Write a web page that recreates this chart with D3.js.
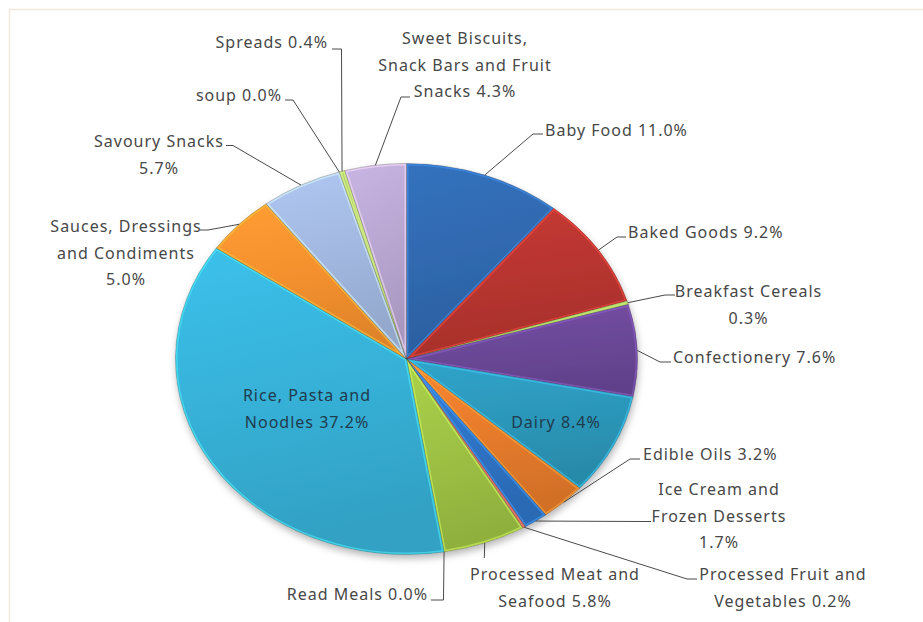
<!DOCTYPE html>
<html>
<head>
<meta charset="utf-8">
<script src="https://cdn.jsdelivr.net/npm/d3@7"></script>
<style>
  html, body { margin: 0; padding: 0; background: #ffffff; }
  svg { display: block; }
  text { font-family: "Noto Sans", "Open Sans", sans-serif; }
</style>
</head>
<body>
<svg id="chart" width="923" height="622"></svg>
<script>
// ---------------- data ----------------
const categories = [
  "Baby Food", "Baked Goods", "Breakfast Cereals", "Confectionery", "Dairy",
  "Edible Oils", "Ice Cream and Frozen Desserts", "Processed Fruit and Vegetables",
  "Processed Meat and Seafood", "Read Meals", "Rice, Pasta and Noodles",
  "Sauces, Dressings and Condiments", "Savoury Snacks", "soup", "Spreads",
  "Sweet Biscuits, Snack Bars and Fruit Snacks"
];
const values = [11.0, 9.2, 0.3, 7.6, 8.4, 3.2, 1.7, 0.2, 5.8, 0.0, 37.2, 5.0, 5.7, 0.0, 0.4, 4.3];
// words per label line
const labelWrap = [[3],[3],[2,1],[2],[2],[3],[3,2,1],[3,2],[3,2],[3],[3,2],[2,2,1],[2,1],[2],[2],[2,4,2]];
const colors = ["#3069B0","#B83530","#9BBB59","#6B4898","#2C98BB","#E87C2C","#2F74C6","#D0605A",
                "#9EC244","#8064A2","#37B2D9","#F5912E","#A2B8E0","#D47F7C","#A9C86A","#B9A7D2"];

// ---------------- layout ----------------
const W = 923, H = 622;
const cx = 406.5, cy = 359, rx = 231, ry = 195.5;
const lineH = 26.7;
// label placement: x, first baseline y, text anchor, leader elbow & end (null = inside label)
const labelLayout = [
  {x: 545, y: 136, a: "start",  elbow: [533, 134], end: [543, 134]},
  {x: 628, y: 238, a: "start",  elbow: [617, 237], end: [626, 237]},
  {x: 748.5, y: 297, a: "middle", elbow: [665, 295], end: [675, 295]},
  {x: 673, y: 363, a: "start",  elbow: [660, 362], end: [671, 362]},
  {x: 556, y: 428, a: "middle", elbow: null},
  {x: 643, y: 460, a: "start",  elbow: [630, 459], end: [640, 459]},
  {x: 719, y: 495, a: "middle", elbow: [643, 521.5], end: [651, 521.5]},
  {x: 783, y: 580, a: "middle", elbow: [687, 579], end: [697, 579]},
  {x: 555, y: 580, a: "middle", elbow: [484.3, 558], end: [484.3, 558]},
  {x: 428, y: 600, a: "end",    elbow: [443.5, 600], end: [431, 600]},
  {x: 307, y: 401, a: "middle", elbow: null},
  {x: 126, y: 232, a: "middle", elbow: [208, 230], end: [200, 230]},
  {x: 159, y: 147, a: "middle", elbow: [233, 145.5], end: [226, 145.5]},
  {x: 282, y: 101, a: "end",    elbow: [293, 100], end: [285, 100]},
  {x: 328, y: 48,  a: "end",    elbow: [341.5, 49], end: [332, 49]},
  {x: 465, y: 44,  a: "middle", elbow: [401, 97], end: [410, 97]}
];

// ---------------- drawing ----------------
const svg = d3.select("#chart");
const defs = svg.append("defs");

// outer frame
svg.append("rect").attr("x", 9.5).attr("y", 9.5).attr("width", 940).attr("height", 640)
  .attr("fill", "#ffffff").attr("stroke", "#F1E7DA").attr("stroke-width", 1.5);

const f = defs.append("filter").attr("id", "shadow").attr("x", "-10%").attr("y", "-10%")
  .attr("width", "120%").attr("height", "125%");
f.append("feDropShadow").attr("dx", 1).attr("dy", 4).attr("stdDeviation", 3.5)
  .attr("flood-color", "#000").attr("flood-opacity", 0.28);

const data = categories.map((c, i) => ({name: c, value: values[i], color: colors[i], i}));
const pie = d3.pie().sort(null).value(d => d.value).startAngle(0).endAngle(2 * Math.PI);
const arcs = pie(data);
const arc = d3.arc().innerRadius(0).outerRadius(rx);
const shown = arcs.filter(a => a.data.value > 0);

shown.forEach(a => {
  const c = d3.color(a.data.color);
  const g = defs.append("linearGradient").attr("id", "g" + a.data.i)
    .attr("x1", 0).attr("y1", 0).attr("x2", 0.2).attr("y2", 1);
  g.append("stop").attr("offset", 0).attr("stop-color", d3.color(c).brighter(0.22));
  g.append("stop").attr("offset", 0.5).attr("stop-color", c);
  g.append("stop").attr("offset", 1).attr("stop-color", d3.color(c).darker(0.28));
  defs.append("clipPath").attr("id", "c" + a.data.i)
    .append("path").attr("d", arc(a));
});

const pieG = svg.append("g").attr("filter", "url(#shadow)");
const inner = pieG.append("g").attr("transform", `translate(${cx},${cy}) scale(1,${ry / rx})`);

const sl = inner.selectAll("g.slice").data(shown).join("g").attr("class", "slice");
sl.append("path")
  .attr("d", arc)
  .attr("fill", a => `url(#g${a.data.i})`);
// bevel: inner light edge (clipped to slice)
sl.append("path")
  .attr("d", arc)
  .attr("clip-path", a => `url(#c${a.data.i})`)
  .attr("fill", "none")
  .attr("stroke", a => d3.color(a.data.color).brighter(0.9))
  .attr("stroke-opacity", 0.55)
  .attr("stroke-width", 4)
  .attr("stroke-linejoin", "round")
  .attr("vector-effect", "non-scaling-stroke");
// thin dark separator
sl.append("path")
  .attr("d", arc)
  .attr("fill", "none")
  .attr("stroke", "rgba(40,40,40,0.35)")
  .attr("stroke-width", 0.7)
  .attr("stroke-linejoin", "round")
  .attr("vector-effect", "non-scaling-stroke");

// ---------------- labels ----------------
const pointAt = (ang, r) => [cx + rx * r * Math.sin(ang), cy - ry * r * Math.cos(ang)];

const leaderG = svg.append("g");
const labelG = svg.append("g");
arcs.forEach(a => {
  const L = labelLayout[a.data.i];
  const mid = (a.startAngle + a.endAngle) / 2;
  if (L.elbow) {
    const p0 = pointAt(mid, 1);
    leaderG.append("polyline")
      .attr("points", [p0, L.elbow, L.end].map(p => p.join(",")).join(" "))
      .attr("fill", "none").attr("stroke", "#4a4a4a").attr("stroke-width", 1);
  }
  const words = `${a.data.name} ${d3.format(".1f")(a.data.value)}%`.split(" ");
  const lines = [];
  let k = 0;
  labelWrap[a.data.i].forEach(n => { lines.push(words.slice(k, k + n).join(" ")); k += n; });
  const t = labelG.append("text")
    .attr("text-anchor", L.a)
    .attr("font-size", 16)
    .attr("letter-spacing", 1)
    .attr("fill", L.elbow ? "#474747" : "#1f3b4d");
  lines.forEach((ln, j) => {
    t.append("tspan").attr("x", L.x).attr("y", L.y + j * lineH).text(ln);
  });
});
</script>
</body>
</html>
